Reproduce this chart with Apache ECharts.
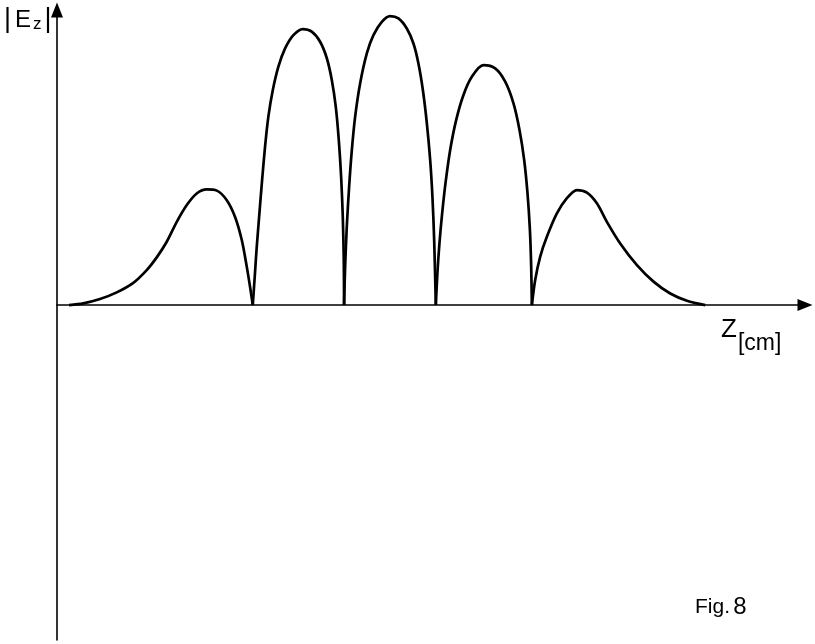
<!DOCTYPE html>
<html>
<head>
<meta charset="utf-8">
<script src="https://cdn.jsdelivr.net/npm/echarts@6/dist/echarts.min.js"></script>
<style>
  html, body { margin: 0; padding: 0; background: #fff; }
  #chart { width: 815px; height: 644px; }
</style>
</head>
<body>
<div id="chart"></div>
<script>
// Field magnitude |Ez| along z: five lobes separated by nulls.
// z in axis units, |Ez| normalised to the largest lobe.
const lobe1Z = [1.6, 3.49, 5.71, 7.93, 10.13, 11.91, 13.24, 14.57, 15.90, 17.23, 18.55, 19.88, 21.21, 22.54, 23.64, 24.53, 25.19, 25.63, 25.99];
const lobe1E = [0, 0.006, 0.021, 0.044, 0.077, 0.121, 0.165, 0.219, 0.288, 0.346, 0.386, 0.400, 0.396, 0.363, 0.305, 0.225, 0.133, 0.063, 0];

const lobe2Z = [25.99, 26.25, 26.52, 26.87, 27.23, 27.62, 28.06, 28.65, 29.39, 30.28, 31.38, 32.63, 33.82, 34.93, 35.82, 36.48, 37.01, 37.41, 37.72, 37.94, 38.07, 38.11];
const lobe2E = [0, 0.098, 0.202, 0.317, 0.433, 0.548, 0.652, 0.744, 0.825, 0.888, 0.934, 0.955, 0.946, 0.911, 0.854, 0.779, 0.686, 0.571, 0.443, 0.305, 0.156, 0];

const lobe3Z = [38.11, 38.25, 38.47, 38.78, 39.14, 39.58, 40.24, 41.13, 42.01, 43.12, 44.22, 45.33, 46.44, 47.32, 47.98, 48.57, 49.10, 49.54, 49.84, 50.07, 50.29];
const lobe3E = [0, 0.132, 0.270, 0.409, 0.536, 0.652, 0.767, 0.871, 0.934, 0.980, 1.0, 0.992, 0.957, 0.905, 0.836, 0.744, 0.629, 0.502, 0.375, 0.225, 0];

const lobe4Z = [50.29, 50.50, 50.77, 51.13, 51.57, 52.19, 52.99, 53.96, 55.07, 56.61, 58.17, 59.50, 60.60, 61.40, 62.02, 62.46, 62.78, 62.95, 63.04];
const lobe4E = [0, 0.110, 0.213, 0.317, 0.421, 0.536, 0.640, 0.727, 0.790, 0.830, 0.819, 0.773, 0.698, 0.606, 0.502, 0.387, 0.260, 0.133, 0];

const lobe5Z = [63.04, 63.48, 64.14, 65.03, 66.36, 67.69, 69.02, 70.35, 71.67, 73.00, 74.77, 76.99, 79.19, 81.41, 83.63, 86.06];
const lobe5E = [0, 0.087, 0.167, 0.236, 0.317, 0.370, 0.398, 0.389, 0.352, 0.288, 0.213, 0.138, 0.081, 0.040, 0.015, 0];

const lobes = [
  [lobe1Z, lobe1E],
  [lobe2Z, lobe2E],
  [lobe3Z, lobe3E],
  [lobe4Z, lobe4E],
  [lobe5Z, lobe5E]
];

const yTitle = ['|', 'E', 'z', '|'];
const xTitle = ['Z', '[cm]'];
const figTitle = ['Fig.', '8'];

const font = '"Liberation Sans", Arial, sans-serif';

const chart = echarts.init(document.getElementById('chart'), null, { renderer: 'canvas' });

const axisCommon = {
  axisTick: { show: false },
  axisLabel: { show: false },
  splitLine: { show: false },
  axisLine: {
    show: true,
    symbol: ['none', 'triangle'],
    symbolSize: [12, 15],
    lineStyle: { color: '#000', width: 1.6 }
  }
};

chart.setOption({
  backgroundColor: '#fff',
  animation: false,
  grid: { left: 57, right: 10, top: 10, bottom: 4, containLabel: false },
  xAxis: Object.assign({ type: 'value', min: 0, max: 99.3 }, axisCommon),
  yAxis: Object.assign({ type: 'value', min: -1.159, max: 1.021 }, axisCommon),
  series: lobes.map(([zs, es]) => ({
    type: 'line',
    smooth: 0.3,
    symbol: 'none',
    lineStyle: { color: '#000', width: 2.7 },
    data: zs.map((z, i) => [z, es[i]])
  })),
  graphic: [
    {
      type: 'text',
      left: 4,
      top: 6,
      style: {
        text: '{b|' + yTitle[0] + '}{a|' + yTitle[1] + '}{s|' + yTitle[2] + '}{b|' + yTitle[3] + '}',
        rich: {
          b: { fontFamily: font, fontSize: 27, fill: '#000', padding: [0, 2, 0, 0] },
          a: { fontFamily: font, fontSize: 24, fill: '#000', padding: [2, 1, 0, 2] },
          s: { fontFamily: font, fontSize: 17, fill: '#000', padding: [10, 3, 0, 1] }
        }
      }
    },
    {
      type: 'text',
      left: 721,
      top: 317,
      style: {
        text: '{a|' + xTitle[0] + '}{s|' + xTitle[1] + '}',
        rich: {
          a: { fontFamily: font, fontSize: 26, fill: '#000' },
          s: { fontFamily: font, fontSize: 23, fill: '#000', padding: [27, 0, 0, 1] }
        }
      }
    },
    {
      type: 'text',
      left: 695,
      top: 595,
      style: {
        text: '{a|' + figTitle[0] + '} {b|' + figTitle[1] + '}',
        rich: {
          a: { fontFamily: font, fontSize: 21, fill: '#000' },
          b: { fontFamily: font, fontSize: 24, fill: '#000' }
        }
      }
    }
  ]
});
</script>
</body>
</html>
